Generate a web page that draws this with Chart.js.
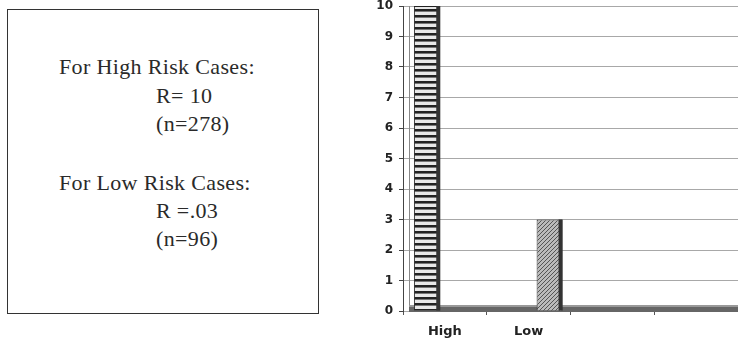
<!DOCTYPE html>
<html>
<head>
<meta charset="utf-8">
<script src="https://cdn.jsdelivr.net/npm/chart.js@4"></script>
<style>
  body { margin: 0; background: #fff; width: 738px; height: 339px; overflow: hidden; position: relative; }
  #box { position: absolute; left: 7px; top: 9px; width: 310px; height: 303px; border: 1px solid #333; }
  .line { position: absolute; font-family: "Liberation Serif", "DejaVu Serif", serif; font-size: 22px; letter-spacing: 0.35px; color: #2a2a2a; white-space: nowrap; line-height: 22px; }
  #wrap { position: absolute; left: 340px; top: -6px; width: 398px; height: 345px; }
</style>
</head>
<body>
<div id="box"></div>
<div class="line" style="left:59px; top:56px;">For High Risk Cases:</div>
<div class="line" style="left:156px; top:85px;">R= 10</div>
<div class="line" style="left:156px; top:113px;">(n=278)</div>
<div class="line" style="left:59px; top:172px;">For Low Risk Cases:</div>
<div class="line" style="left:156px; top:200px;">R =.03</div>
<div class="line" style="left:156px; top:228px;">(n=96)</div>
<div id="wrap"><canvas id="riskChart"></canvas></div>
<script>
const categories = ["High", "Low", "", ""];
const highValues = [10, null, null, null];
const lowValues = [null, 3, null, null];
const yMin = 0;
const yMax = 10;

function stripePattern() {
  const c = document.createElement("canvas");
  c.width = 6; c.height = 6;
  const g = c.getContext("2d");
  g.fillStyle = "#e8e8e8";
  g.fillRect(0, 0, 6, 6);
  g.fillStyle = "#222";
  g.fillRect(0, 3, 6, 2);
  g.fillStyle = "#777";
  g.fillRect(0, 5, 6, 1);
  return g.createPattern(c, "repeat");
}

function hatchPattern() {
  const c = document.createElement("canvas");
  c.width = 4; c.height = 4;
  const g = c.getContext("2d");
  g.fillStyle = "#bbb";
  g.fillRect(0, 0, 4, 4);
  g.strokeStyle = "#555";
  g.lineWidth = 1;
  g.beginPath();
  g.moveTo(0, 4); g.lineTo(4, 0);
  g.moveTo(-1, 1); g.lineTo(1, -1);
  g.moveTo(3, 5); g.lineTo(5, 3);
  g.stroke();
  return g.createPattern(c, "repeat");
}

const ctx = document.getElementById("riskChart").getContext("2d");

new Chart(ctx, {
  type: "bar",
  data: {
    labels: categories,
    datasets: [
      {
        label: "High",
        data: highValues,
        backgroundColor: stripePattern(),
        borderColor: "#222",
        borderWidth: 1,
        categoryPercentage: 0.85,
        barPercentage: 0.74,
      },
      {
        label: "Low",
        data: lowValues,
        backgroundColor: hatchPattern(),
        borderColor: "#333",
        borderWidth: 1,
        categoryPercentage: 1,
        barPercentage: 0.62,
      },
    ],
  },
  options: {
    responsive: true,
    maintainAspectRatio: false,
    animation: false,
    layout: { padding: 0 },
    plugins: {
      legend: { display: false },
      tooltip: { enabled: false },
    },
    scales: {
      x: {
        afterFit: (scale) => { scale.height = 28; },
        grid: { drawOnChartArea: false, tickLength: 4, color: "#555", offset: true },
        border: { display: false },
        ticks: {
          color: "#222",
          padding: 9,
          font: { family: "DejaVu Sans", size: 13, weight: "bold" },
        },
      },
      y: {
        min: yMin,
        max: yMax,
        afterFit: (scale) => { scale.width = 63; },
        ticks: {
          stepSize: 1,
          color: "#222",
          padding: 6,
          font: { family: "DejaVu Sans", size: 12, weight: "bold", lineHeight: 1 },
        },
        grid: { color: "#a8a8a8", tickLength: 4, tickColor: "#444" },
        border: { color: "#444" },
      },
    },
  },
  plugins: [
    {
      id: "floorAndWall",
      beforeDatasetsDraw: (chart) => {
        const c = chart.ctx;
        const area = chart.chartArea;
        const y0 = chart.scales.y.getPixelForValue(0);
        c.save();
        // floor
        c.fillStyle = "#666";
        c.fillRect(area.left + 6, y0 - 6, area.right - area.left - 6, 7);
        c.fillStyle = "#999";
        c.fillRect(area.left + 6, y0 - 6, area.right - area.left - 6, 2);
        // back wall edge
        c.strokeStyle = "#888";
        c.lineWidth = 1;
        c.beginPath();
        c.moveTo(area.left + 6.5, area.top);
        c.lineTo(area.left + 6.5, y0 - 6);
        c.stroke();
        c.restore();
      },
    },
    {
      id: "barSide",
      afterDatasetsDraw: (chart) => {
        const c = chart.ctx;
        c.save();
        c.fillStyle = "#333";
        chart.data.datasets.forEach((ds, i) => {
          chart.getDatasetMeta(i).data.forEach((bar, j) => {
            if (ds.data[j] == null) return;
            const right = bar.x + bar.width / 2;
            c.fillRect(right - 4, bar.y, 4, bar.base - bar.y);
          });
        });
        c.restore();
      },
    },
  ],
});
</script>
</body>
</html>
